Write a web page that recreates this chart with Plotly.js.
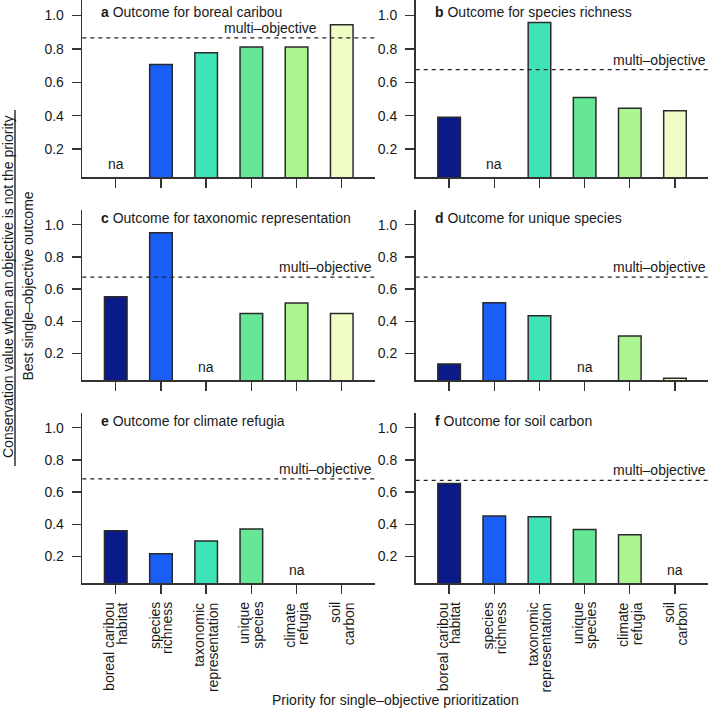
<!DOCTYPE html>
<html>
<head>
<meta charset="utf-8">
<script src="https://cdn.plot.ly/plotly-3.0.1.min.js"></script>
<style>html,body{margin:0;padding:0;background:#fff;}#chart{width:709px;height:711px;}</style>
</head>
<body>
<div id="chart"></div>
<script>
// ---- data ----
const categories = ['boreal caribou habitat', 'species richness', 'taxonomic representation', 'unique species', 'climate refugia', 'soil carbon'];
const tickLines = [['boreal caribou', 'habitat'], ['species', 'richness'], ['taxonomic', 'representation'], ['unique', 'species'], ['climate', 'refugia'], ['soil', 'carbon']];
const panelLetters = ['a', 'b', 'c', 'd', 'e', 'f'];
const panelTitles = ['Outcome for boreal caribou', 'Outcome for species richness', 'Outcome for taxonomic representation', 'Outcome for unique species', 'Outcome for climate refugia', 'Outcome for soil carbon'];
const valsA = [null, 0.706, 0.777, 0.811, 0.811, 0.944];
const valsB = [0.390, null, 0.958, 0.509, 0.444, 0.430];
const valsC = [0.553, 0.951, null, 0.449, 0.513, 0.449];
const valsD = [0.135, 0.515, 0.434, null, 0.308, 0.045];
const valsE = [0.360, 0.217, 0.296, 0.371, null, 0];
const valsF = [0.653, 0.452, 0.447, 0.368, 0.335, null];
const multiObjective = [0.865, 0.675, 0.675, 0.675, 0.682, 0.673];
const naIndex = [0, 1, 2, 3, 4, 5];
const yTicks = [0.2, 0.4, 0.6, 0.8, 1.0];
const yTickText = ['0.2', '0.4', '0.6', '0.8', '1.0'];
const barColors = ['#0a1a88', '#1a5ef8', '#3ee4b8', '#66e796', '#abf693', '#effcc6'];

const panelValues = [valsA, valsB, valsC, valsD, valsE, valsF];

// ---- layout geometry (pixels of a 709x711 page) ----
const W = 709, H = 711;
const colPx = [[82.3, 375.2], [415.7, 708.4]];
const rowPx = [[0, 177], [210, 380.3], [413, 583.3]];
const FONT = 'Liberation Sans, Arial, Helvetica, sans-serif';
const TXT = '#1a1a1a';
const AX = '#333333';

const data = [];
const annotations = [];
const shapes = [];
const layout = {
  width: W, height: H,
  margin: {l: 0, r: 0, t: 0, b: 0, pad: 0},
  paper_bgcolor: '#ffffff', plot_bgcolor: '#ffffff',
  showlegend: false,
  font: {family: FONT, size: 14, color: TXT},
  bargap: 0.5
};

const idx = categories.map((c, i) => i);

panelValues.forEach((vals, p) => {
  const row = Math.floor(p / 2), col = p % 2;
  const n = p + 1;
  const xa = 'x' + (n === 1 ? '' : n), ya = 'y' + (n === 1 ? '' : n);
  const xKey = 'xaxis' + (n === 1 ? '' : n), yKey = 'yaxis' + (n === 1 ? '' : n);
  layout[xKey] = {
    domain: [colPx[col][0] / W, colPx[col][1] / W],
    anchor: ya,
    range: [-0.74, 5.74],
    tickvals: idx, showticklabels: false,
    ticks: 'outside', ticklen: 9, tickwidth: 1.4, tickcolor: AX,
    showline: true, linecolor: AX, linewidth: 1.6,
    showgrid: false, zeroline: false, fixedrange: true
  };
  layout[yKey] = {
    domain: [(H - rowPx[row][1]) / H, (H - rowPx[row][0]) / H],
    anchor: xa,
    range: [0.033, 1.092],
    tickvals: yTicks, ticktext: yTickText,
    ticks: 'outside', ticklen: 9, tickwidth: 1.4, tickcolor: AX,
    ticklabelstandoff: 5,
    tickfont: {family: FONT, size: 14, color: TXT},
    showline: true, linecolor: AX, linewidth: 1.6,
    showgrid: false, zeroline: false, fixedrange: true
  };
  data.push({
    type: 'bar', x: idx, y: vals, xaxis: xa, yaxis: ya,
    width: 0.5,
    marker: {color: barColors, line: {color: '#2a2a2a', width: 1.5}},
    hoverinfo: 'skip'
  });
  // multi-objective dashed line
  shapes.push({
    type: 'line', xref: xa + ' domain', yref: ya,
    x0: 0, x1: 1, y0: multiObjective[p], y1: multiObjective[p],
    line: {color: '#222', width: 1.3, dash: '4px,4px'}
  });
  const lastTaller = vals[5] !== null && vals[5] > multiObjective[p];
  annotations.push({
    xref: xa, yref: ya, x: lastTaller ? 4.5 : 5.72, y: multiObjective[p],
    xanchor: 'right', yanchor: 'bottom', yshift: 0,
    text: 'multi\u2013objective', showarrow: false,
    font: {family: FONT, size: 14, color: TXT}
  });
  // na label
  const naI = vals.indexOf(null);
  if (naI >= 0) {
    annotations.push({
      xref: xa, yref: ya, x: naIndex[naI], y: 0.113,
      xanchor: 'center', yanchor: 'middle',
      text: 'na', showarrow: false,
      font: {family: FONT, size: 14, color: TXT}
    });
  }
  // panel title
  annotations.push({
    xref: xa + ' domain', yref: ya + ' domain', x: 0, y: 1,
    xanchor: 'left', yanchor: 'middle', xshift: 17, yshift: row === 0 ? -11.5 : -8.5,
    text: '<b>' + panelLetters[p] + '</b> ' + panelTitles[p], showarrow: false,
    font: {family: FONT, size: 14, color: TXT}
  });
  // category labels for bottom row
  if (row === 2) {
    tickLines.forEach((lines, i) => {
      lines.forEach((ln, j) => {
        annotations.push({
          xref: xa, yref: ya + ' domain', x: i, y: 0,
          xanchor: 'center', yanchor: 'top', textangle: -90,
          xshift: (j - (lines.length - 1) / 2) * 13.3, yshift: -18,
          text: ln, showarrow: false, borderpad: 0,
          font: {family: FONT, size: 14, color: TXT}
        });
      });
    });
  }
});

// axis titles
annotations.push({
  xref: 'paper', yref: 'paper', x: 7.5 / W, y: (H - 287.5) / H,
  xanchor: 'center', yanchor: 'middle', textangle: -90,
  text: 'Conservation value when an objective is not the priority', showarrow: false,
  font: {family: FONT, size: 14, color: TXT}
});
annotations.push({
  xref: 'paper', yref: 'paper', x: 27.5 / W, y: (H - 286) / H,
  xanchor: 'center', yanchor: 'middle', textangle: -90,
  text: 'Best single\u2013objective outcome', showarrow: false,
  font: {family: FONT, size: 14, color: TXT}
});
shapes.push({
  type: 'line', xref: 'paper', yref: 'paper',
  x0: 15 / W, x1: 15 / W, y0: (H - 110) / H, y1: (H - 466) / H,
  line: {color: '#222', width: 1.4}
});
annotations.push({
  xref: 'paper', yref: 'paper', x: 395 / W, y: (H - 700) / H,
  xanchor: 'center', yanchor: 'middle',
  text: 'Priority for single\u2013objective prioritization', showarrow: false,
  font: {family: FONT, size: 14, color: TXT}
});

layout.annotations = annotations;
layout.shapes = shapes;

Plotly.newPlot('chart', data, layout, {displayModeBar: false, staticPlot: true});
</script>
</body>
</html>
